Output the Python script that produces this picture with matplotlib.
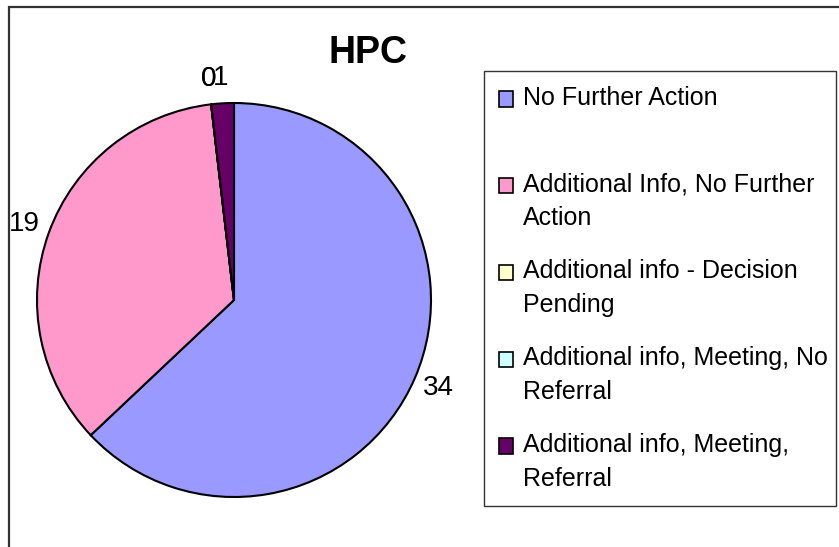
import matplotlib
matplotlib.use("Agg")
import matplotlib.pyplot as plt
from matplotlib.patches import Rectangle
from matplotlib.legend_handler import HandlerPatch

# ---- data ----
categories = [
    "No Further Action",
    "Additional Info, No Further Action",
    "Additional info - Decision Pending",
    "Additional info, Meeting, No Referral",
    "Additional info, Meeting, Referral",
]
legend_labels = [
    "No Further Action\n ",
    "Additional Info, No Further\nAction",
    "Additional info - Decision\nPending",
    "Additional info, Meeting, No\nReferral",
    "Additional info, Meeting,\nReferral",
]
values = [34, 19, 0, 0, 1]
colors = ["#9999FF", "#FF99CC", "#FFFFCC", "#CCFFFF", "#660066"]
title = "HPC"

plt.rcParams["font.family"] = ["Liberation Sans", "DejaVu Sans"]

W, H = 839, 547
fig = plt.figure(figsize=(W / 100, H / 100), dpi=100)
fig.patch.set_facecolor("white")

# outer chart frame (only top and left visible)
fig.patches.append(Rectangle((9 / W, -0.2), 1.2, 1 - 7 / H + 0.2, fill=False,
                             edgecolor="#333333", lw=1.6, transform=fig.transFigure))

cx, cy, r = 234, 300, 197
ax = fig.add_axes([(cx - r) / W, (H - cy - r) / H, 2 * r / W, 2 * r / H])
total = sum(values)
wedges, texts, autotexts = ax.pie(
    values, colors=colors, startangle=90, counterclock=False,
    wedgeprops=dict(edgecolor="black", linewidth=1.5),
    autopct=lambda p: f"{round(p * total / 100):d}", pctdistance=1.13,
    textprops=dict(fontsize=20, color="black"))
ax.set_xlim(-1, 1)
ax.set_ylim(-1, 1)
ax.axis("off")

fig.text(368 / W, 1 - 53 / H, title, ha="center", va="center",
         fontsize=27, fontweight="bold")

fs = 18
shift_pt = 16.5 * 72 / 100


class FirstLineHandler(HandlerPatch):
    def create_artists(self, legend, orig_handle, xdescent, ydescent, width,
                       height, fontsize, trans):
        p = Rectangle((-xdescent, -ydescent + shift_pt), width, height,
                      facecolor=orig_handle.get_facecolor(), edgecolor="black",
                      lw=1.2, transform=trans)
        return [p]


handler = FirstLineHandler()
leg = fig.legend(wedges, legend_labels, loc="upper left",
                 bbox_to_anchor=(484 / W, 1 - 71 / H, 352 / W, 0),
                 bbox_transform=fig.transFigure, mode="expand",
                 borderaxespad=0, fontsize=fs, frameon=True, fancybox=False,
                 handlelength=14 / (fs * 100 / 72), handleheight=14 / (fs * 100 / 72),
                 handletextpad=10 / (fs * 100 / 72), borderpad=0.6,
                 labelspacing=1.17,
                 handler_map={w: handler for w in wedges})
leg.get_frame().set_edgecolor("black")
leg.get_frame().set_linewidth(1.0)
for t in leg.get_texts():
    t.set_linespacing(1.5)

fig.savefig("out.png", dpi=100)
